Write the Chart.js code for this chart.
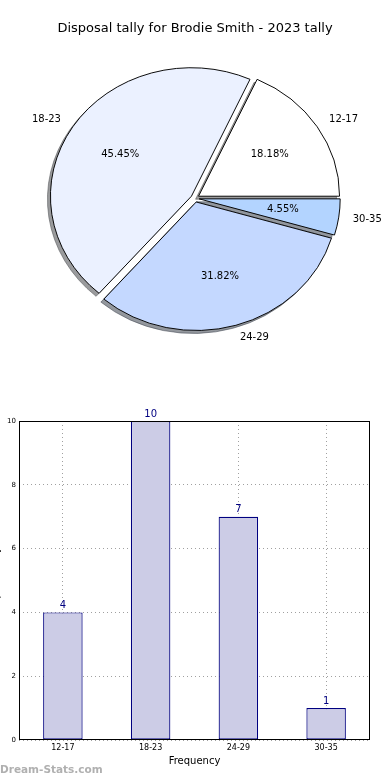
<!DOCTYPE html>
<html>
<head>
<meta charset="utf-8">
<script src="https://cdn.jsdelivr.net/npm/chart.js@4.4.1/dist/chart.umd.min.js"></script>
<style>
html, body { margin: 0; padding: 0; background: #fff; width: 390px; height: 780px; overflow: hidden; position: relative; }
#pie { position: absolute; left: 0; top: 0; }
#bar { position: absolute; left: -10px; top: 390px; }
#mark { position: absolute; left: 0; top: 763px; font: bold 10.5px "DejaVu Sans", sans-serif; color: #b0b0b0; }
</style>
</head>
<body>
<canvas id="pie" width="390" height="390"></canvas>
<canvas id="bar" width="400" height="390"></canvas>
<div id="mark">Dream-Stats.com</div>
<script>
// data
const categories = ['12-17', '18-23', '24-29', '30-35'];
const tally = [4, 10, 7, 1];
const sliceColours = ['#ffffff', '#ebf1ff', '#c4d8ff', '#b3d4ff'];
const yTicks = [0, 2, 4, 6, 8, 10];

const FONT = '"DejaVu Sans", sans-serif';

// matplotlib goes anticlockwise from 3 o'clock, chart.js clockwise -> reverse
const pieLabels = categories.slice().reverse();
const pieValues = tally.slice().reverse();
const pieColours = sliceColours.slice().reverse();
const total = tally.reduce((a, b) => a + b, 0);

const R = 141;          // pie radius (x)
const squashY = 128.5 / 141; // pie is an ellipse
const explode = 0.03 * R;

function shade(hex) {
        const n = parseInt(hex.slice(1), 16);
        const r = Math.round(((n >> 16) & 255) * 0.3);
        const g = Math.round(((n >> 8) & 255) * 0.3);
        const b = Math.round((n & 255) * 0.3);
        return `rgba(${r},${g},${b},0.55)`;
}

function squash(ctx, cx, cy) {
        ctx.translate(cx, cy);
        ctx.scale(1, squashY);
        ctx.translate(-cx, -cy);
}

//ve pie: shadows first, then slices pushed out
const pieDraw = {
        id: 'pieDraw',
        beforeDatasetsDraw(chart) {
                const ctx = chart.ctx;
                const arcs = chart.getDatasetMeta(0).data;
                const cx = arcs[0].x, cy = arcs[0].y;
                arcs.forEach(arc => {
                        const mid = (arc.startAngle + arc.endAngle) / 2;
                        const o = arc.options;
                        ctx.save();
                        ctx.translate(-3, 3);
                        squash(ctx, cx, cy);
                        ctx.translate(explode * Math.cos(mid), explode * Math.sin(mid));
                        arc.options = Object.assign({}, o, { backgroundColor: shade(o.backgroundColor), borderColor: shade(o.backgroundColor) });
                        arc.draw(ctx);
                        arc.options = o;
                        ctx.restore();
                });
                arcs.forEach(arc => {
                        const mid = (arc.startAngle + arc.endAngle) / 2;
                        ctx.save();
                        squash(ctx, cx, cy);
                        ctx.translate(explode * Math.cos(mid), explode * Math.sin(mid));
                        arc.draw(ctx);
                        ctx.restore();
                });
                return false;
        },
        afterDraw(chart) {
                const ctx = chart.ctx;
                const arcs = chart.getDatasetMeta(0).data;
                ctx.save();
                ctx.font = '10px ' + FONT;
                ctx.fillStyle = '#000';
                ctx.textBaseline = 'middle';
                arcs.forEach((arc, i) => {
                        const mid = (arc.startAngle + arc.endAngle) / 2;
                        const c = Math.cos(mid), s = Math.sin(mid);
                        const rl = explode + 1.1 * R;
                        ctx.textAlign = c > 0 ? 'left' : 'right';
                        ctx.fillText(pieLabels[i], arc.x + rl * c, arc.y + rl * s * squashY);
                        const rp = explode + 0.6 * R;
                        ctx.textAlign = 'center';
                        ctx.fillText((pieValues[i] / total * 100).toFixed(2) + '%', arc.x + rp * c, arc.y + rp * s * squashY);
                });
                ctx.restore();
        }
};

new Chart(document.getElementById('pie'), {
        type: 'pie',
        data: {
                labels: pieLabels,
                datasets: [{
                        data: pieValues,
                        backgroundColor: pieColours,
                        borderColor: '#000',
                        borderWidth: 1
                }]
        },
        options: {
                responsive: false,
                animation: false,
                events: [],
                rotation: 90,
                radius: R,
                layout: { padding: { bottom: 40 } },
                plugins: {
                        legend: { display: false },
                        tooltip: { enabled: false },
                        title: {
                                display: true,
                                text: 'Disposal tally for Brodie Smith - 2023 tally',
                                color: '#000',
                                font: { family: FONT, size: 13, weight: 'normal' },
                                padding: { top: 21, bottom: 10 }
                        }
                }
        },
        plugins: [pieDraw]
});

//ve bar: frame + value labels
const barExtras = {
        id: 'barExtras',
        afterDatasetsDraw(chart) {
                const { ctx, chartArea: a } = chart;
                ctx.save();
                ctx.strokeStyle = '#000';
                ctx.lineWidth = 1;
                ctx.strokeRect(Math.round(a.left) + 0.5, Math.round(a.top) + 0.5, Math.round(a.right - a.left) - 1, Math.round(a.bottom - a.top) - 1);
                ctx.fillStyle = '#000080';
                ctx.font = '10px ' + FONT;
                ctx.textAlign = 'center';
                ctx.textBaseline = 'bottom';
                chart.getDatasetMeta(0).data.forEach((bar, i) => {
                        ctx.fillText(String(tally[i]), bar.x, bar.y - 2);
                });
                ctx.restore();
        }
};

new Chart(document.getElementById('bar'), {
        type: 'bar',
        data: {
                labels: categories,
                datasets: [{
                        data: tally,
                        backgroundColor: '#cccce6',
                        borderColor: '#000080',
                        borderWidth: 1.2,
                        borderSkipped: false,
                        barPercentage: 0.45,
                        categoryPercentage: 1
                }]
        },
        options: {
                responsive: false,
                animation: false,
                events: [],
                layout: { padding: { top: 31, right: 20, bottom: 0, left: 0 } },
                plugins: { legend: { display: false }, tooltip: { enabled: false } },
                scales: {
                        x: {
                                grid: { offset: false, color: '#a0a0a0', drawTicks: false },
                                border: { display: false, dash: [1, 3] },
                                ticks: { color: '#000', padding: 3, font: { family: FONT, size: 8 } },
                                title: { display: true, text: 'Frequency', color: '#000', font: { family: FONT, size: 10 }, padding: { top: 0, bottom: 13 } },
                                afterFit(scale) { scale.height = 40; }
                        },
                        y: {
                                min: yTicks[0],
                                max: yTicks[yTicks.length - 1],
                                afterBuildTicks(scale) { scale.ticks = yTicks.map(v => ({ value: v })); },
                                grid: { color: '#a0a0a0', drawTicks: false },
                                border: { display: false, dash: [1, 3] },
                                ticks: { color: '#000', padding: 3, font: { family: FONT, size: 7 } },
                                title: { display: true, text: 'Disposal Tally', color: '#000', font: { family: FONT, size: 10 }, padding: 0 },
                                afterFit(scale) { scale.width = 29; }
                        }
                }
        },
        plugins: [barExtras]
});
</script>
</body>
</html>
